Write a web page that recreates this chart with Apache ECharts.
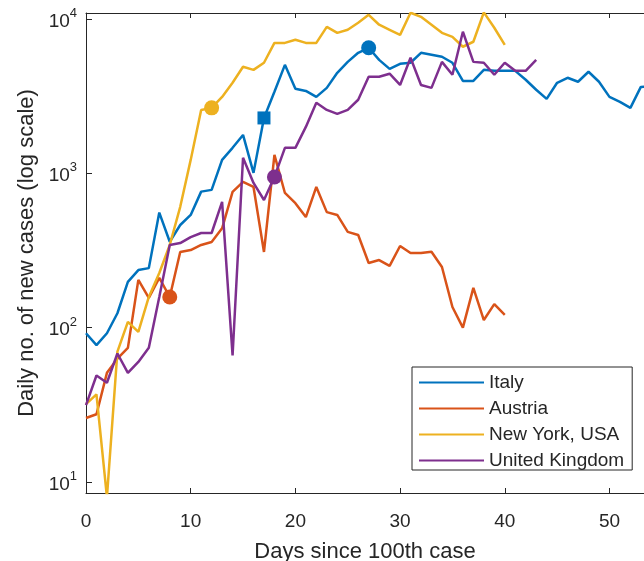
<!DOCTYPE html>
<html>
<head>
<meta charset="utf-8">
<script src="https://cdn.jsdelivr.net/npm/echarts@6/dist/echarts.min.js"></script>
<style>
  html, body { margin: 0; padding: 0; background: #fff; }
  #chart { width: 644px; height: 561px; }
</style>
</head>
<body>
<div id="chart"></div>
<script>
// daily new cases, index = days since 100th case
const italy = [92, 77, 92, 124, 198, 236, 243, 556, 360, 462, 537, 760, 780, 1220, 1460, 1770, 1005, 2280, 3370, 5030,
  3520, 3410, 3120, 3570, 4470, 5260, 6020, 6490, 5420, 4740, 5110, 5190, 6020, 5850, 5680, 5190, 3960, 3960, 4670, 4600,
  4600, 4600, 4030, 3470, 3030, 3850, 4150, 3910, 4540, 3910, 3120, 2900, 2650, 3620, 3650]
const austria = [26, 27.5, 51, 63, 74, 204, 156, 210, 158, 309, 318, 343, 359, 440, 757, 879, 815, 309, 1315, 745,
  640, 520, 815, 560, 537, 417, 398, 262, 274, 251, 338, 304, 304, 310, 247, 136, 100, 181, 112, 142, 121]
const newYork = [32, 37, 8, 70, 109, 94, 158, 226, 343, 606, 1220, 2570, 2650, 3120, 3850, 4890, 4670, 5190, 6980, 6980,
  7310, 6980, 6980, 8870, 8110, 8490, 9420, 10600, 9150, 8490, 7870, 10940, 10300, 9150, 8110, 7640, 6590, 7100, 11000, 8750, 6780]
const uk = [31.5, 49, 44, 68, 51, 60, 74, 158, 343, 353, 386, 410, 410, 652, 66, 1260, 865, 671, 946, 1460,
  1460, 1995, 2860, 2570, 2420, 2570, 2990, 4210, 4210, 4410, 3730, 5590, 3730, 3570, 5260, 4340, 8240, 5260, 5190, 4340,
  5190, 4600, 4600, 5420]

// marked days: [day, symbol]
const italyMarks = [[17, 'rect'], [27, 'circle']]
const austriaMarks = [[8, 'circle']]
const newYorkMarks = [[12, 'circle']]
const ukMarks = [[18, 'circle']]

const xTicks = [0, 10, 20, 30, 40, 50]
const yMajor = [10, 100, 1000, 10000]
const yMinor = [9, 20, 30, 40, 50, 60, 70, 80, 90, 200, 300, 400, 500, 600, 700, 800, 900,
  2000, 3000, 4000, 5000, 6000, 7000, 8000, 9000]

const font = '"Liberation Sans", Arial, Helvetica, sans-serif'
const ink = '#262626'

function toData(values, marks) {
  return values.map((v, i) => {
    const m = marks.find(k => k[0] === i)
    if (!m) return [i, v]
    return { value: [i, v], symbol: m[1], symbolSize: m[1] === 'rect' ? 13 : 15 }
  })
}

function line(name, values, marks, color) {
  return {
    name: name,
    type: 'line',
    data: toData(values, marks),
    symbol: 'none',
    showSymbol: true,
    lineStyle: { width: 2.5, color: color },
    itemStyle: { color: color },
    emphasis: { disabled: true },
    animation: false
  }
}

const chart = echarts.init(document.getElementById('chart'))
chart.setOption({
  backgroundColor: '#fff',
  textStyle: { fontFamily: font },
  grid: { left: 86, right: 0, top: 13, bottom: 68, outerBoundsMode: 'none', containLabel: false },
  legend: {
    orient: 'vertical',
    left: 412,
    top: 367,
    backgroundColor: '#fff',
    borderColor: ink,
    borderWidth: 1,
    padding: [6, 8, 0, 6],
    itemWidth: 65,
    itemHeight: 14,
    itemGap: 7,
    itemStyle: { opacity: 0 },
    textStyle: { fontSize: 19, color: ink, fontFamily: font }
  },
  xAxis: [
    {
      type: 'value',
      min: 0,
      max: 53.3,
      interval: 10,
      name: 'Days since 100th case',
      nameLocation: 'middle',
      nameGap: 48,
      nameTextStyle: { fontSize: 22, color: ink, fontFamily: font },
      axisLine: { lineStyle: { color: ink, width: 1 } },
      axisTick: { inside: true, length: 5, customValues: xTicks, lineStyle: { color: ink } },
      axisLabel: { customValues: xTicks, fontSize: 19, color: ink, margin: 19, fontFamily: font },
      splitLine: { show: false }
    },
    {
      type: 'value',
      position: 'top',
      min: 0,
      max: 53.3,
      interval: 10,
      axisLine: { lineStyle: { color: ink, width: 1 } },
      axisTick: { inside: true, length: 5, customValues: xTicks, lineStyle: { color: ink } },
      axisLabel: { show: false },
      splitLine: { show: false }
    }
  ],
  yAxis: [
    {
      type: 'log',
      logBase: 10,
      min: 8.5,
      max: 10900,
      name: 'Daily no. of new cases (log scale)',
      nameLocation: 'middle',
      nameGap: 46,
      nameTextStyle: { fontSize: 22, color: ink, fontFamily: font },
      axisLine: { show: true, lineStyle: { color: ink, width: 1 } },
      axisTick: { inside: true, length: 6, customValues: yMajor, lineStyle: { color: ink } },
      axisLabel: {
        customValues: yMajor,
        margin: 9,
        formatter: function (v) {
          const e = Math.round(Math.log10(v))
          if (Math.abs(Math.log10(v) - e) > 1e-6) return ''
          return '{b|10}{s|' + e + '}'
        },
        rich: {
          b: { fontSize: 19, color: ink, fontFamily: font, lineHeight: 24, verticalAlign: 'bottom' },
          s: { fontSize: 13, color: ink, fontFamily: font, lineHeight: 24, verticalAlign: 'top' }
        }
      },
      splitLine: { show: false }
    },
    {
      type: 'log',
      logBase: 10,
      min: 8.5,
      max: 10900,
      position: 'right',
      offset: -558,
      axisLine: { show: false },
      axisTick: { inside: false, length: 3, customValues: yMinor, lineStyle: { color: ink } },
      axisLabel: { show: false },
      splitLine: { show: false }
    }
  ],
  series: [
    line('Italy', italy, italyMarks, '#0072BD'),
    line('Austria', austria, austriaMarks, '#D95319'),
    line('New York, USA', newYork, newYorkMarks, '#EDB120'),
    line('United Kingdom', uk, ukMarks, '#7E2F8E')
  ]
})
</script>
</body>
</html>
